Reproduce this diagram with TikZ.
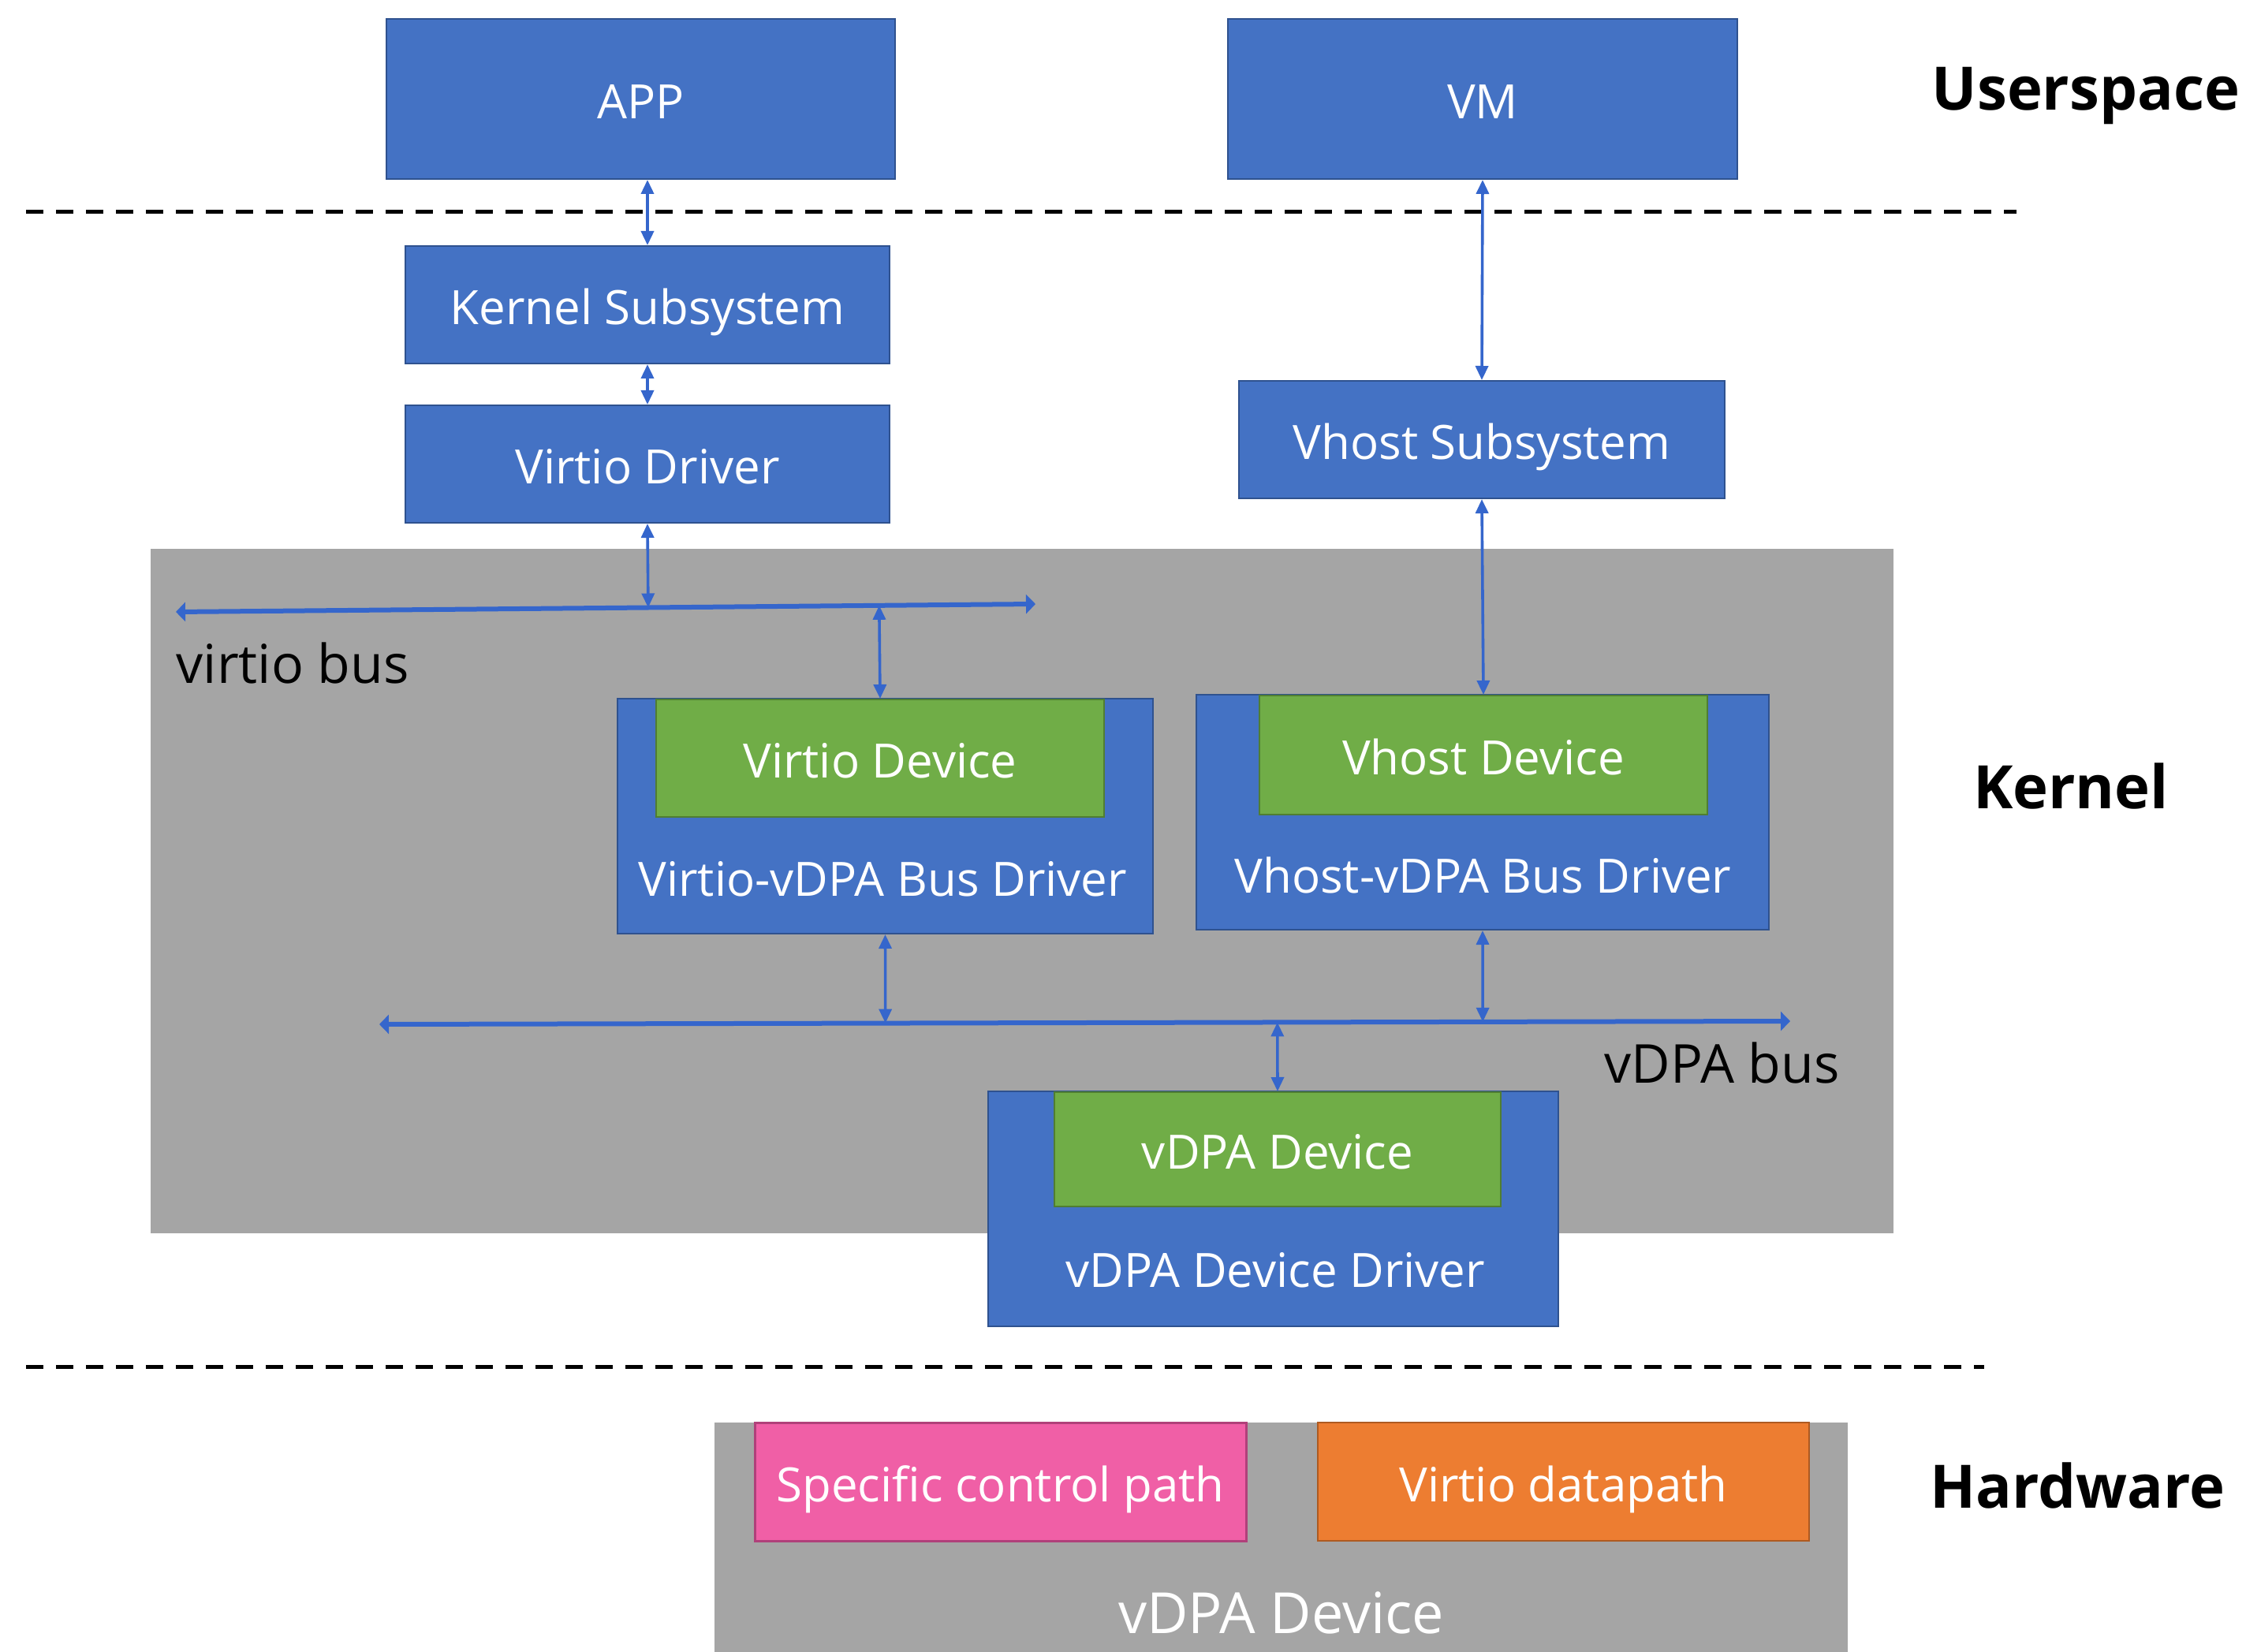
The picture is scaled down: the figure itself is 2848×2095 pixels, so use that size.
\documentclass[tikz,border=0pt]{standalone}
\usepackage{fontspec}
\setmainfont{Open Sans}
\usetikzlibrary{arrows.meta,calc,positioning}

\definecolor{boxblue}{HTML}{4472C4}
\definecolor{boxedge}{HTML}{2F528F}
\definecolor{devgreen}{HTML}{70AD47}
\definecolor{devedge}{HTML}{507E32}
\definecolor{layergray}{HTML}{A5A5A5}
\definecolor{ctlpink}{HTML}{F05FA6}
\definecolor{ctledge}{HTML}{B0407A}
\definecolor{dporange}{HTML}{ED7D31}
\definecolor{dpedge}{HTML}{AE5A21}
\definecolor{linkblue}{HTML}{3566CC}

\tikzset{
  blk/.style={draw=boxedge, fill=boxblue, line width=0.5pt, text=white, inner sep=0pt,
    text height=12.5pt, text depth=0pt, font=\fontsize{15}{18}\selectfont},
  devblk/.style={blk, draw=devedge, fill=devgreen, anchor=north},
  boxtxt/.style={text=white, inner sep=0pt, text height=12.5pt, text depth=0pt,
    font=\fontsize{15}{18}\selectfont},
  layertxt/.style={inner sep=0pt, font=\bfseries\fontsize{19}{22}\selectfont},
  bustxt/.style={inner sep=0pt, anchor=west, font=\fontsize{17}{20}\selectfont},
  linkarr/.style={draw=linkblue, line width=0.9pt,
    {Triangle[length=4.5pt,width=4pt]}-{Triangle[length=4.5pt,width=4pt]}},
  busarr/.style={draw=linkblue, line width=1.5pt,
    {Triangle[length=3pt,width=6pt]}-{Triangle[length=3pt,width=6pt]}},
  sepline/.style={draw=black, line width=1.25pt, dash pattern={on 5.5pt off 4pt}}
}

\begin{document}
\begin{tikzpicture}[x=0.25pt,y=0.25pt,yscale=-1,xscale=1]
\useasboundingbox (0,0) rectangle (2848,2095);

% layer backgrounds
\fill[layergray] (191,696) rectangle (2401,1564);
\fill[layergray] (906,1804) rectangle (2343,2095);

% layer separators
\draw[sepline] (33,269) -- (2557,269);
\draw[sepline] (33,1733) -- (2516,1733);

% userspace
\node[blk, minimum width=161.25pt, minimum height=50.75pt] (app) at (812.5,125.5) {APP};
\node[blk, minimum width=161.5pt, minimum height=50.75pt] (vm) at (1880,125.5) {VM};

% kernel, virtio side
\node[blk, minimum width=153.5pt, minimum height=37.25pt] (ksub) at (821,386.5) {Kernel Subsystem};
\node[blk, minimum width=153.5pt, minimum height=37.25pt] (vdrv) at (821,588.5) {Virtio Driver};
\node[blk, minimum width=169.75pt, minimum height=74.5pt] (vvdrv) at (1122.5,1035) {};
\node[devblk, minimum width=142pt, minimum height=37.25pt] (vdev) at (1116,886) {Virtio Device};
\node[boxtxt] (vvdrvtxt) at ($(vdev.south)!0.5!(vvdrv.south)$) {Virtio-vDPA Bus Driver};

% kernel, vhost side
\node[blk, minimum width=154pt, minimum height=37.25pt] (vhsub) at (1879,557.5) {Vhost Subsystem};
\node[blk, minimum width=181.5pt, minimum height=74.5pt] (vhdrv) at (1880,1030) {};
\node[devblk, minimum width=142pt, minimum height=37.75pt] (vhdev) at (1881,881) {Vhost Device};
\node[boxtxt] (vhdrvtxt) at ($(vhdev.south)!0.5!(vhdrv.south)$) {Vhost-vDPA Bus Driver};

% vdpa device driver
\node[blk, minimum width=180.75pt, minimum height=74.5pt] (vdpadrv) at (1614.5,1533) {};
\node[devblk, minimum width=141.5pt, minimum height=36.25pt] (vdpadev) at (1620,1384) {vDPA Device};
\node[boxtxt] (vdpadrvtxt) at ($(vdpadev.south)!0.5!(vdpadrv.south)$) {vDPA Device Driver};

% hardware
\node[blk, draw=ctledge, fill=ctlpink, line width=0.75pt, minimum width=155.75pt, minimum height=37.5pt] (ctl) at (1268.5,1879) {Specific control path};
\node[blk, draw=dpedge, fill=dporange, minimum width=155.75pt, minimum height=37.5pt] (dp) at (1982.5,1879) {Virtio datapath};
\node[text=white, inner sep=0pt, font=\fontsize{18}{21}\selectfont] (hwdev) at (1624.5,2045) {vDPA Device};

% buses
\coordinate (vbl) at (223,776);
\coordinate (vbr) at (1313,766);
\coordinate (dbl) at (481,1299);
\coordinate (dbr) at (2270,1295);
\draw[busarr] (vbl) -- (vbr);
\draw[busarr] (dbl) -- (dbr);
\node[bustxt] (vbustxt) at (223,841) {virtio bus};
\node[bustxt] (dbustxt) at (2034,1348) {vDPA bus};

% links
\draw[linkarr] (app.south -| ksub.north) -- (ksub.north);
\draw[linkarr] (ksub.south) -- (vdrv.north);
\draw[linkarr] (vdrv.south) -- ($(vbl)!(vdrv.south)!(vbr)$);
\draw[linkarr] ($(vbl)!(vdev.north)!(vbr)$) -- (vdev.north);
\draw[linkarr] (vm.south) -- (vhsub.north);
\draw[linkarr] (vhsub.south) -- (vhdev.north);
\draw[linkarr] (vvdrv.south) -- ($(dbl)!(vvdrv.south)!(dbr)$);
\draw[linkarr] (vhdrv.south) -- ($(dbl)!(vhdrv.south)!(dbr)$);
\draw[linkarr] ($(dbl)!(vdpadev.north)!(dbr)$) -- (vdpadev.north);

% layer names
\node[layertxt] (lusr) at (2645,122) {Userspace};
\node[layertxt] (lker) at (2626,997) {Kernel};
\node[layertxt] (lhw) at (2634,1884) {Hardware};

\end{tikzpicture}
\end{document}
